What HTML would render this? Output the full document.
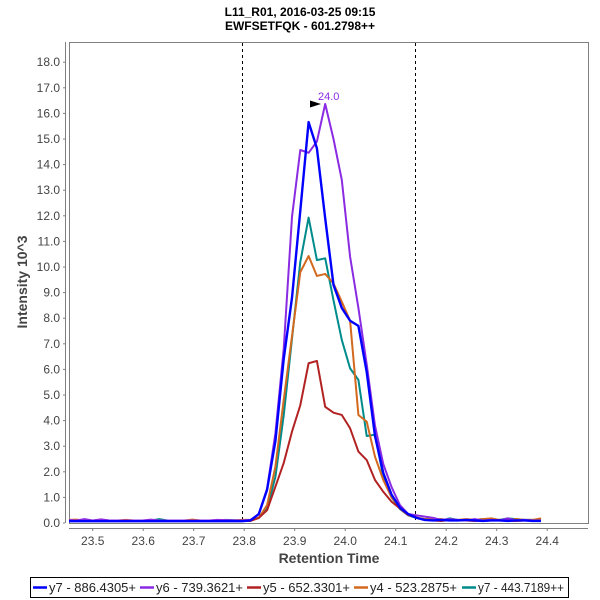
<!DOCTYPE html>
<html>
<head>
<meta charset="utf-8">
<style>
  html,body{margin:0;padding:0;background:#fff;}
  svg{display:block;}
  text{font-family:"Liberation Sans",sans-serif;}
</style>
</head>
<body>
<svg width="600" height="600" viewBox="0 0 600 600" xmlns="http://www.w3.org/2000/svg">
  <rect x="0" y="0" width="600" height="600" fill="#fff"/>
  <!-- Titles -->
  <text x="300" y="16" text-anchor="middle" font-size="12" font-weight="bold" fill="#000">L11_R01, 2016-03-25 09:15</text>
  <text x="300" y="30" text-anchor="middle" font-size="12" font-weight="bold" fill="#000">EWFSETFQK - 601.2798++</text>

  <defs>
    <clipPath id="pa"><rect x="69" y="42" width="519" height="481"/></clipPath>
  </defs>

  <!-- plot frame -->
  <rect x="69.5" y="42.5" width="519" height="481" fill="#fff" stroke="#808080" stroke-width="1"/>

  <!-- axes lines -->
  <line x1="65.5" y1="42" x2="65.5" y2="523" stroke="#808080" stroke-width="1"/>
  <line x1="69" y1="528.5" x2="588" y2="528.5" stroke="#808080" stroke-width="1"/>

  <!-- Y ticks -->
  <g stroke="#808080" stroke-width="1">
    <line x1="63" y1="523" x2="65" y2="523"/>
    <line x1="63" y1="497.4" x2="65" y2="497.4"/>
    <line x1="63" y1="471.8" x2="65" y2="471.8"/>
    <line x1="63" y1="446.2" x2="65" y2="446.2"/>
    <line x1="63" y1="420.6" x2="65" y2="420.6"/>
    <line x1="63" y1="395" x2="65" y2="395"/>
    <line x1="63" y1="369.4" x2="65" y2="369.4"/>
    <line x1="63" y1="343.8" x2="65" y2="343.8"/>
    <line x1="63" y1="318.2" x2="65" y2="318.2"/>
    <line x1="63" y1="292.6" x2="65" y2="292.6"/>
    <line x1="63" y1="267" x2="65" y2="267"/>
    <line x1="63" y1="241.4" x2="65" y2="241.4"/>
    <line x1="63" y1="215.8" x2="65" y2="215.8"/>
    <line x1="63" y1="190.2" x2="65" y2="190.2"/>
    <line x1="63" y1="164.6" x2="65" y2="164.6"/>
    <line x1="63" y1="139" x2="65" y2="139"/>
    <line x1="63" y1="113.4" x2="65" y2="113.4"/>
    <line x1="63" y1="87.8" x2="65" y2="87.8"/>
    <line x1="63" y1="62.2" x2="65" y2="62.2"/>
  </g>
  <g font-size="12" fill="#444" text-anchor="end">
    <text x="60" y="527">0.0</text>
    <text x="60" y="501.4">1.0</text>
    <text x="60" y="475.8">2.0</text>
    <text x="60" y="450.2">3.0</text>
    <text x="60" y="424.6">4.0</text>
    <text x="60" y="399">5.0</text>
    <text x="60" y="373.4">6.0</text>
    <text x="60" y="347.8">7.0</text>
    <text x="60" y="322.2">8.0</text>
    <text x="60" y="296.6">9.0</text>
    <text x="60" y="271">10.0</text>
    <text x="60" y="245.4">11.0</text>
    <text x="60" y="219.8">12.0</text>
    <text x="60" y="194.2">13.0</text>
    <text x="60" y="168.6">14.0</text>
    <text x="60" y="143">15.0</text>
    <text x="60" y="117.4">16.0</text>
    <text x="60" y="91.8">17.0</text>
    <text x="60" y="66.2">18.0</text>
  </g>

  <!-- X ticks -->
  <g stroke="#808080" stroke-width="1">
    <line x1="92.7" y1="528" x2="92.7" y2="531"/>
    <line x1="143.2" y1="528" x2="143.2" y2="531"/>
    <line x1="193.7" y1="528" x2="193.7" y2="531"/>
    <line x1="244.2" y1="528" x2="244.2" y2="531"/>
    <line x1="294.7" y1="528" x2="294.7" y2="531"/>
    <line x1="345.2" y1="528" x2="345.2" y2="531"/>
    <line x1="395.7" y1="528" x2="395.7" y2="531"/>
    <line x1="446.2" y1="528" x2="446.2" y2="531"/>
    <line x1="496.7" y1="528" x2="496.7" y2="531"/>
    <line x1="547.2" y1="528" x2="547.2" y2="531"/>
  </g>
  <g font-size="12" fill="#444" text-anchor="middle">
    <text x="92.7" y="545">23.5</text>
    <text x="143.2" y="545">23.6</text>
    <text x="193.7" y="545">23.7</text>
    <text x="244.2" y="545">23.8</text>
    <text x="294.7" y="545">23.9</text>
    <text x="345.2" y="545">24.0</text>
    <text x="395.7" y="545">24.1</text>
    <text x="446.2" y="545">24.2</text>
    <text x="496.7" y="545">24.3</text>
    <text x="547.2" y="545">24.4</text>
  </g>

  <!-- Axis labels -->
  <text x="329" y="563" text-anchor="middle" font-size="14" font-weight="bold" fill="#444">Retention Time</text>
  <text transform="translate(27,282) rotate(-90)" text-anchor="middle" font-size="14" font-weight="bold" fill="#444">Intensity 10^3</text>

  <!-- dashed markers -->
  <line x1="242.5" y1="43" x2="242.5" y2="523" stroke="#000" stroke-width="1" stroke-dasharray="3,3"/>
  <line x1="415.5" y1="43" x2="415.5" y2="523" stroke="#000" stroke-width="1" stroke-dasharray="3,3"/>

  <!-- Series -->
  <g clip-path="url(#pa)">
    <g transform="translate(250.5,523) scale(8.3,-25.6)" fill="none" stroke-linejoin="round" stroke-linecap="butt">
      <!-- teal y7 443 -->
      <polyline vector-effect="non-scaling-stroke" stroke="#008b8b" stroke-width="2"
        points="-22,0.1 -19,0.1 -18,0.12 -17,0.1 -12,0.1 -11,0.15 -10,0.1 -4,0.1 -3,0.12 -1,0.1 0,0.1 1,0.2 2,0.55 3,1.8 4,4.2 5,7.2 6,10.2 7,11.93 8,10.27 9,10.34 10,8.7 11,7.15 12,6.04 13,5.59 14,3.4 15,3.45 16,1.8 17,1.0 18,0.55 19,0.3 20,0.2 21,0.15 22,0.15 23,0.1 24,0.18 25,0.12 26,0.1 27,0.12 28,0.15 29,0.1 30,0.12 31,0.18 32,0.15 33,0.12 34,0.12 35,0.1"/>
      <!-- orange y4 523 -->
      <polyline vector-effect="non-scaling-stroke" stroke="#d2691e" stroke-width="2"
        points="-22,0.12 -21,0.13 -20,0.1 -16,0.1 -15,0.12 -14,0.1 -8,0.1 -7,0.13 -6,0.1 -2,0.1 -1,0.12 0,0.12 1,0.2 2,0.7 3,2.2 4,4.8 5,7.3 6,9.8 7,10.43 8,9.65 9,9.73 10,9.36 11,8.64 12,7.9 13,4.22 14,3.96 15,2.59 16,1.68 17,1.0 18,0.6 19,0.35 20,0.2 21,0.15 22,0.15 23,0.15 24,0.1 25,0.12 26,0.15 27,0.12 28,0.15 29,0.18 30,0.12 31,0.12 32,0.15 33,0.12 34,0.12 35,0.18"/>
      <!-- red y5 652 -->
      <polyline vector-effect="non-scaling-stroke" stroke="#b22222" stroke-width="2"
        points="-22,0.08 -1,0.08 0,0.08 1,0.2 2,0.5 3,1.42 4,2.34 5,3.57 6,4.6 7,6.24 8,6.33 9,4.54 10,4.31 11,4.22 12,3.7 13,2.79 14,2.46 15,1.68 16,1.22 17,0.83 18,0.57 19,0.31 20,0.22 21,0.12 22,0.1 23,0.08 24,0.12 25,0.1 26,0.1 27,0.08 28,0.1 29,0.1 30,0.12 31,0.1 32,0.08 33,0.1 34,0.1 35,0.08"/>
      <!-- purple y6 739 -->
      <polyline vector-effect="non-scaling-stroke" stroke="#8a2be2" stroke-width="2"
        points="-22,0.12 -21,0.1 -20,0.15 -19,0.1 -18,0.14 -17,0.1 -13,0.1 -12,0.13 -11,0.1 -5,0.1 -4,0.12 -1,0.1 0,0.12 1,0.35 2,1.35 3,3.5 4,6.8 5,11.96 6,14.57 7,14.46 8,14.9 9,16.37 10,15.0 11,13.4 12,10.4 13,8.4 14,6.2 15,3.8 16,2.3 17,1.4 18,0.7 19,0.35 20,0.3 21,0.25 22,0.2 23,0.12 24,0.15 25,0.12 26,0.1 27,0.15 28,0.1 29,0.12 30,0.1 31,0.18 32,0.1 33,0.12 34,0.1 35,0.1"/>
      <!-- blue y7 886 -->
      <polyline vector-effect="non-scaling-stroke" stroke="#0000ff" stroke-width="2.4"
        points="-22,0.07 -1,0.07 0,0.1 1,0.35 2,1.3 3,3.2 4,6.4 5,8.8 6,12.2 7,15.66 8,14.64 9,11.9 10,9.3 11,8.4 12,7.9 13,7.7 14,5.9 15,3.4 16,1.95 17,1.1 18,0.6 19,0.35 20,0.2 21,0.12 22,0.1 23,0.12 24,0.1 25,0.1 26,0.12 27,0.1 28,0.08 29,0.1 30,0.1 31,0.08 32,0.1 33,0.1 34,0.08 35,0.08"/>
    </g>
  </g>

  <!-- annotation -->
  <polygon points="310,100.5 321,104 310,107.5" fill="#000"/>
  <text x="318" y="100" font-size="11" fill="#8a2be2">24.0</text>

  <!-- Legend -->
  <rect x="30.5" y="577.5" width="538" height="20" fill="#fff" stroke="#000" stroke-width="1"/>
  <g stroke-width="2.5">
    <line x1="33" y1="587.5" x2="47" y2="587.5" stroke="#0000ff"/>
    <line x1="140" y1="587.5" x2="154" y2="587.5" stroke="#8a2be2"/>
    <line x1="247" y1="587.5" x2="261" y2="587.5" stroke="#b22222"/>
    <line x1="354" y1="587.5" x2="368" y2="587.5" stroke="#d2691e"/>
    <line x1="462" y1="587.5" x2="476" y2="587.5" stroke="#008b8b"/>
  </g>
  <g font-size="13" fill="#222">
    <text x="49" y="592" textLength="87" lengthAdjust="spacingAndGlyphs">y7 - 886.4305+</text>
    <text x="156" y="592" textLength="87" lengthAdjust="spacingAndGlyphs">y6 - 739.3621+</text>
    <text x="263" y="592" textLength="87" lengthAdjust="spacingAndGlyphs">y5 - 652.3301+</text>
    <text x="370" y="592" textLength="87" lengthAdjust="spacingAndGlyphs">y4 - 523.2875+</text>
    <text x="478" y="592" textLength="86" lengthAdjust="spacingAndGlyphs">y7 - 443.7189++</text>
  </g>
</svg>
</body>
</html>
